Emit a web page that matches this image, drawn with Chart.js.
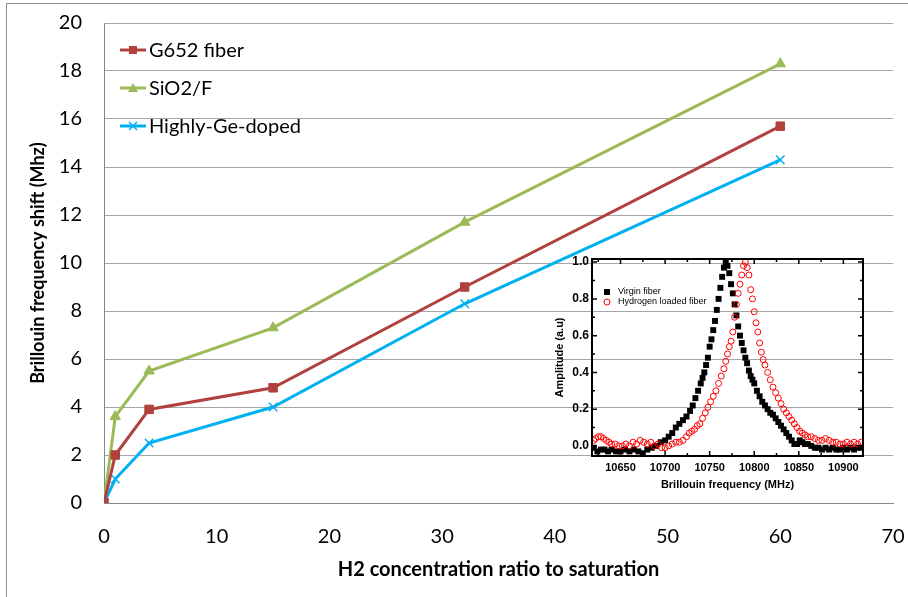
<!DOCTYPE html>
<html>
<head>
<meta charset="utf-8">
<title>Brillouin frequency shift vs H2 concentration</title>
<script src="https://cdn.jsdelivr.net/npm/chart.js@4.4.0/dist/chart.umd.min.js"></script>
<style>
  html, body { margin: 0; padding: 0; background: #fff; }
  #wrap { position: relative; width: 908px; height: 597px; overflow: hidden; }
  #mainChart { position: absolute; left: 0; top: 0; }
  #insetChart { position: absolute; left: 545px; top: 250px; }
</style>
</head>
<body>
<div id="wrap">
  <canvas id="mainChart" width="908" height="597"></canvas>
  <canvas id="insetChart" width="330" height="250"></canvas>
</div>
<script>
// main chart data
const h2Ratio = [0, 1, 4, 15, 32, 60];
const g652 = [0, 2.0, 3.9, 4.8, 9.0, 15.7];
const sio2f = [0, 3.6, 5.5, 7.3, 11.7, 18.3];
const geDoped = [0, 1.0, 2.5, 4.0, 8.3, 14.3];
const seriesNames = ['G652 fiber', 'SiO2/F', 'Highly-Ge-doped'];

// inset data (Brillouin spectra)
const virginFreq = [10620, 10624, 10628, 10632, 10636, 10640, 10645, 10650, 10655, 10660, 10665, 10670, 10675, 10680, 10685, 10690, 10695,
  10700, 10704, 10708, 10712, 10716, 10720, 10724, 10728, 10731, 10734, 10737, 10740, 10742, 10744, 10746, 10748, 10750, 10752, 10754,
  10756, 10758, 10760, 10762, 10764, 10766, 10768, 10770, 10772, 10774, 10776, 10778, 10780, 10782, 10784, 10786, 10788, 10790, 10792,
  10794, 10796, 10798, 10800, 10803, 10806, 10809, 10812, 10815, 10818, 10821, 10824, 10827, 10830, 10833, 10836, 10839, 10842, 10845,
  10848, 10851, 10854, 10857, 10860, 10864, 10868, 10872, 10876, 10880, 10884, 10888, 10892, 10896, 10900, 10904, 10908, 10912, 10916, 10920];
const virginAmp = [-0.01, -0.03, -0.02, -0.02, -0.03, -0.02, -0.03, -0.03, -0.02, -0.03, -0.02, -0.03, -0.04, -0.02, -0.01, 0.00, 0.02,
  0.03, 0.05, 0.07, 0.10, 0.12, 0.14, 0.16, 0.19, 0.22, 0.26, 0.30, 0.34, 0.37, 0.40, 0.44, 0.48, 0.54, 0.58, 0.63,
  0.68, 0.74, 0.80, 0.86, 0.92, 0.97, 1.00, 0.98, 0.94, 0.88, 0.83, 0.77, 0.71, 0.65, 0.60, 0.56, 0.52, 0.48, 0.45,
  0.41, 0.38, 0.36, 0.34, 0.30, 0.27, 0.24, 0.22, 0.20, 0.18, 0.17, 0.15, 0.13, 0.11, 0.09, 0.07, 0.05, 0.03, 0.01,
  0.01, 0.03, 0.02, 0.01, 0.01, 0.00, -0.01, -0.01, -0.02, -0.01, -0.02, -0.01, -0.02, -0.02, -0.01, -0.02, -0.01, -0.02, -0.01, -0.01];
const hydroFreq = [10620, 10622, 10625, 10628, 10631, 10634, 10637, 10640, 10644, 10648, 10652, 10656, 10660, 10664, 10668, 10672, 10676,
  10680, 10684, 10688, 10692, 10696, 10700, 10704, 10708, 10712, 10716, 10720, 10724, 10727, 10730, 10733, 10736, 10739, 10742, 10745,
  10748, 10751, 10754, 10757, 10760, 10763, 10766, 10768, 10770, 10772, 10774, 10776, 10778, 10780, 10782, 10784, 10786, 10788, 10790,
  10792, 10794, 10796, 10798, 10800, 10802, 10804, 10806, 10808, 10810, 10812, 10815, 10818, 10821, 10824, 10827, 10830, 10833, 10836,
  10839, 10842, 10845, 10848, 10851, 10854, 10857, 10860, 10864, 10868, 10872, 10876, 10880, 10884, 10888, 10892, 10896, 10900, 10904,
  10908, 10912, 10916, 10920];
const hydroAmp = [0.03, 0.04, 0.05, 0.05, 0.04, 0.03, 0.02, 0.01, 0.01, 0.00, 0.00, 0.01, 0.00, 0.02, 0.01, 0.03, 0.02,
  0.01, 0.02, 0.00, 0.01, -0.01, -0.01, 0.00, 0.01, 0.02, 0.02, 0.03, 0.05, 0.07, 0.08, 0.09, 0.11, 0.12, 0.15, 0.18,
  0.21, 0.24, 0.27, 0.30, 0.34, 0.38, 0.42, 0.46, 0.50, 0.54, 0.57, 0.62, 0.70, 0.77, 0.83, 0.88, 0.93, 0.98, 1.00,
  0.97, 0.93, 0.85, 0.80, 0.73, 0.67, 0.62, 0.56, 0.51, 0.47, 0.44, 0.40, 0.36, 0.32, 0.29, 0.26, 0.23, 0.20, 0.18,
  0.16, 0.14, 0.12, 0.10, 0.08, 0.07, 0.06, 0.05, 0.05, 0.04, 0.03, 0.03, 0.04, 0.03, 0.02, 0.02, 0.01, 0.01, 0.02,
  0.01, 0.02, 0.01, 0.02];
const insetFreqTicks = [10650, 10700, 10750, 10800, 10850, 10900];
const insetAmpTicks = [0, 0.2, 0.4, 0.6, 0.8, 1.0];

const red = '#B0413E', green = '#9BBB59', blue = '#00B0F0';
const pts = ys => ys.map((y, i) => ({ x: h2Ratio[i], y }));

// draws chart frame and the legend inside the plot
const mainExtras = {
  id: 'mainExtras',
  beforeDraw(chart) {
    const ctx = chart.ctx;
    ctx.save();
    ctx.strokeStyle = '#8c8c8c';
    ctx.lineWidth = 1;
    ctx.beginPath();
    ctx.moveTo(6.5, 597); ctx.lineTo(6.5, 3.5); ctx.lineTo(908, 3.5);
    ctx.stroke();
    ctx.restore();
  },
  afterDraw(chart) {
    const ctx = chart.ctx;
    ctx.save();
    chart.data.datasets.forEach((ds, i) => {
      const y = 50 + i * 38;
      ctx.strokeStyle = ds.borderColor;
      ctx.lineWidth = 3;
      ctx.beginPath(); ctx.moveTo(120, y); ctx.lineTo(146, y); ctx.stroke();
      ctx.fillStyle = ds.borderColor;
      if (ds.pointStyle === 'rect') {
        ctx.fillRect(129, y - 4, 8, 8);
      } else if (ds.pointStyle === 'triangle') {
        ctx.beginPath(); ctx.moveTo(133, y - 5); ctx.lineTo(138, y + 4); ctx.lineTo(128, y + 4); ctx.closePath(); ctx.fill();
      } else {
        ctx.lineWidth = 1.5;
        ctx.beginPath();
        ctx.moveTo(129, y - 4); ctx.lineTo(137, y + 4);
        ctx.moveTo(137, y - 4); ctx.lineTo(129, y + 4);
        ctx.stroke();
      }
      ctx.fillStyle = '#000';
      ctx.font = '20px Lato';
      ctx.textBaseline = 'middle';
      ctx.textAlign = 'left';
      ctx.fillText(ds.label, 149, y + 1);
    });
    ctx.restore();
  }
};

new Chart(document.getElementById('mainChart'), {
  type: 'line',
  data: {
    datasets: [
      { label: seriesNames[0], data: pts(g652), borderColor: red, backgroundColor: red, borderWidth: 3,
        pointStyle: 'rect', pointRadius: 6, pointBorderWidth: 1 },
      { label: seriesNames[1], data: pts(sio2f), borderColor: green, backgroundColor: green, borderWidth: 3,
        pointStyle: 'triangle', pointRadius: 6, pointBorderWidth: 1 },
      { label: seriesNames[2], data: pts(geDoped), borderColor: blue, backgroundColor: blue, borderWidth: 3,
        pointStyle: 'crossRot', pointRadius: 6, pointBorderWidth: 1.5 }
    ]
  },
  options: {
    responsive: false,
    animation: false,
    devicePixelRatio: 1,
    layout: { padding: { top: 23, right: 15, left: 0, bottom: 0 } },
    plugins: { legend: { display: false }, tooltip: { enabled: false } },
    scales: {
      x: {
        type: 'linear', min: 0, max: 70,
        afterFit: s => { s.height = 94; s.paddingLeft = 0; s.paddingRight = 0; },
        ticks: { stepSize: 10, color: '#000', font: { family: 'Lato', size: 20 }, padding: 22, maxRotation: 0 },
        grid: { display: false, drawTicks: false },
        border: { display: true, color: '#868686', width: 1 },
        title: { display: true, text: 'H2 concentration ratio to saturation', color: '#000',
          font: { family: 'Lato', size: 20, weight: 'bold' }, padding: { top: 0, bottom: 15 } }
      },
      y: {
        min: 0, max: 20,
        afterFit: s => { s.width = 104; s.paddingTop = 0; s.paddingBottom = 0; },
        ticks: { stepSize: 2, color: '#000', font: { family: 'Lato', size: 20 }, padding: 22 },
        grid: { color: '#A6A6A6', lineWidth: 1, drawTicks: false },
        border: { display: true, color: '#868686', width: 1 },
        title: { display: true, text: 'Brillouin frequency shift (Mhz)', color: '#000',
          font: { family: 'Lato', size: 18, weight: 'bold' }, padding: { top: 27, bottom: 0 } }
      }
    }
  },
  plugins: [mainExtras]
});

// inset: frame with inward ticks plus its own legend
const insetExtras = {
  id: 'insetExtras',
  afterDraw(chart) {
    const ctx = chart.ctx, a = chart.chartArea;
    const xs = chart.scales.x, ys = chart.scales.y;
    ctx.save();
    ctx.strokeStyle = '#000';
    ctx.lineWidth = 2;
    ctx.strokeRect(a.left, a.top, a.right - a.left, a.bottom - a.top);
    ctx.lineWidth = 1.5;
    ctx.beginPath();
    for (let f = 10625; f <= 10900; f += 25) {
      const x = xs.getPixelForValue(f);
      const len = insetFreqTicks.includes(f) ? 5 : 3;
      ctx.moveTo(x, a.bottom); ctx.lineTo(x, a.bottom - len);
      ctx.moveTo(x, a.top); ctx.lineTo(x, a.top + len);
    }
    for (let k = 0; k <= 10; k++) {
      const y = ys.getPixelForValue(k / 10);
      const len = k % 2 === 0 ? 5 : 3;
      ctx.moveTo(a.left, y); ctx.lineTo(a.left + len, y);
      ctx.moveTo(a.right, y); ctx.lineTo(a.right - len, y);
    }
    ctx.stroke();

    ctx.font = '9px "Liberation Sans"';
    ctx.textBaseline = 'middle';
    ctx.fillStyle = '#000';
    ctx.fillRect(59, 39, 6, 6);
    ctx.fillText('Virgin fiber', 73, 42);
    ctx.strokeStyle = '#ff0000';
    ctx.lineWidth = 1;
    ctx.beginPath(); ctx.arc(62, 52, 3, 0, Math.PI * 2); ctx.stroke();
    ctx.fillText('Hydrogen loaded fiber', 73, 52);
    ctx.restore();
  }
};

new Chart(document.getElementById('insetChart'), {
  type: 'scatter',
  data: {
    datasets: [
      { label: 'Hydrogen loaded fiber', data: hydroFreq.map((f, i) => ({ x: f, y: hydroAmp[i] })),
        pointStyle: 'circle', pointRadius: 3, borderColor: '#ff0000', backgroundColor: 'rgba(255,255,255,0)', pointBorderWidth: 1 },
      { label: 'Virgin fiber', data: virginFreq.map((f, i) => ({ x: f, y: virginAmp[i] })),
        pointStyle: 'rect', pointRadius: 4.2, borderColor: '#000', backgroundColor: '#000', pointBorderWidth: 0 }
    ]
  },
  options: {
    responsive: false,
    animation: false,
    devicePixelRatio: 1,
    layout: { padding: { top: 9, right: 12, left: 0, bottom: 0 } },
    plugins: { legend: { display: false }, tooltip: { enabled: false } },
    scales: {
      x: {
        type: 'linear', min: 10618, max: 10922,
        afterBuildTicks: s => { s.ticks = insetFreqTicks.map(v => ({ value: v })); },
        afterFit: s => { s.height = 44; s.paddingLeft = 0; s.paddingRight = 0; },
        ticks: { color: '#000', font: { family: 'Liberation Sans', size: 11, weight: 'bold' }, padding: 5, maxRotation: 0,
          callback: v => String(v) },
        grid: { display: false, drawTicks: false },
        border: { display: false },
        title: { display: true, text: 'Brillouin frequency (MHz)', color: '#000',
          font: { family: 'Liberation Sans', size: 11, weight: 'bold' }, padding: { top: 0, bottom: 8 } }
      },
      y: {
        min: -0.055, max: 1.017,
        afterBuildTicks: s => { s.ticks = insetAmpTicks.map(v => ({ value: v })); },
        afterFit: s => { s.width = 47; s.paddingTop = 0; s.paddingBottom = 0; },
        ticks: { color: '#000', font: { family: 'Liberation Sans', size: 12, weight: 'bold' }, padding: 3,
          callback: v => v.toFixed(1) },
        grid: { display: false, drawTicks: false },
        border: { display: false },
        title: { display: true, text: 'Amplitude (a.u)', color: '#000',
          font: { family: 'Liberation Sans', size: 11, weight: 'bold' }, padding: { top: 8, bottom: 0 } }
      }
    }
  },
  plugins: [insetExtras]
});
</script>
</body>
</html>
